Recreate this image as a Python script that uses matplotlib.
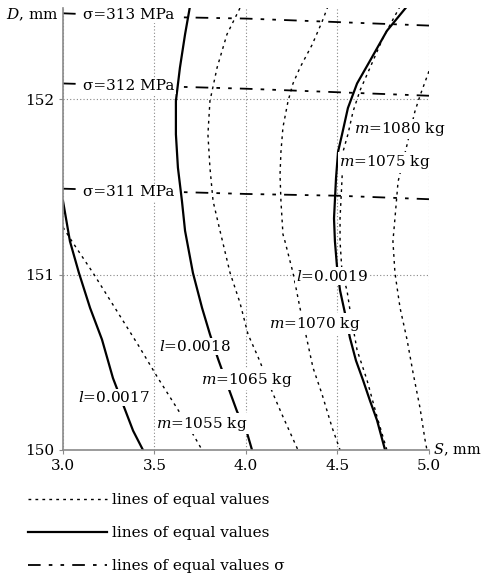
import matplotlib
matplotlib.use("Agg")
import matplotlib.pyplot as plt
from matplotlib.lines import Line2D

plt.rcParams["font.family"] = ["DejaVu Serif"]
plt.rcParams["mathtext.fontset"] = "dejavuserif"
plt.rcParams["font.size"] = 11

# ---------------- DATA ----------------
# lines of equal mass m, kg  (S in mm, D in mm)
m1055_S = [3.0, 3.049, 3.164, 3.290, 3.410, 3.519, 3.628, 3.716, 3.760]
m1055_D = [151.27, 151.19, 151.01, 150.80, 150.60, 150.41, 150.23, 150.08, 150.0]

m1065_S = [3.967, 3.896, 3.842, 3.803, 3.792, 3.803, 3.820, 3.858, 3.913,
           3.967, 4.011, 4.066, 4.148, 4.202, 4.284]
m1065_D = [152.52, 152.37, 152.18, 151.99, 151.80, 151.61, 151.42, 151.25, 151.01,
           150.84, 150.66, 150.53, 150.32, 150.19, 150.0]

m1070_S = [4.448, 4.415, 4.361, 4.295, 4.257, 4.230, 4.202, 4.191, 4.186, 4.191,
           4.202, 4.213, 4.257, 4.295, 4.333, 4.366, 4.415, 4.470, 4.514]
m1070_D = [152.53, 152.44, 152.31, 152.18, 152.09, 151.99, 151.84, 151.70, 151.57, 151.42,
           151.23, 151.19, 151.01, 150.81, 150.63, 150.47, 150.32, 150.13, 150.0]

m1075_S = [4.842, 4.749, 4.678, 4.623, 4.585, 4.557, 4.530, 4.525, 4.514, 4.514,
           4.525, 4.552, 4.568, 4.607, 4.661, 4.716, 4.770]
m1075_D = [152.53, 152.35, 152.18, 152.05, 151.93, 151.80, 151.70, 151.55, 151.32, 151.19,
           151.01, 150.91, 150.80, 150.57, 150.40, 150.19, 150.0]

m1080_S = [5.0, 4.951, 4.923, 4.880, 4.831, 4.814, 4.803, 4.814,
           4.842, 4.880, 4.913, 4.951, 4.978, 4.989]
m1080_D = [152.16, 152.02, 151.93, 151.74, 151.53, 151.32, 151.19, 151.01,
           150.81, 150.63, 150.44, 150.24, 150.06, 150.0]

# lines of equal l
l17_S = [3.0, 3.038, 3.087, 3.148, 3.213, 3.273, 3.339, 3.383, 3.437]
l17_D = [151.42, 151.19, 151.01, 150.81, 150.63, 150.41, 150.23, 150.11, 150.0]

l18_S = [3.694, 3.667, 3.639, 3.617, 3.617, 3.628, 3.650, 3.667, 3.710,
         3.760, 3.803, 3.847, 3.902, 3.951, 4.005, 4.033]
l18_D = [152.53, 152.37, 152.18, 151.99, 151.80, 151.61, 151.42, 151.25, 151.01,
         150.81, 150.66, 150.52, 150.36, 150.22, 150.10, 150.0]

l19_S = [4.880, 4.770, 4.678, 4.607, 4.557, 4.525, 4.503, 4.492, 4.481, 4.486,
         4.497, 4.514, 4.541, 4.568, 4.601, 4.639, 4.678, 4.716, 4.760]
l19_D = [152.53, 152.39, 152.22, 152.09, 151.95, 151.80, 151.70, 151.55, 151.32, 151.19,
         151.05, 150.91, 150.78, 150.64, 150.51, 150.40, 150.28, 150.17, 150.0]

# lines of equal stress sigma, MPa
sig_S = [3.0, 3.5, 4.0, 4.5, 5.0]
sig313_D = [152.49, 152.47, 152.46, 152.44, 152.42]
sig312_D = [152.09, 152.075, 152.06, 152.04, 152.02]
sig311_D = [151.49, 151.475, 151.46, 151.45, 151.43]

x_ticks = [3.0, 3.5, 4.0, 4.5, 5.0]
x_ticklabels = ["3.0", "3.5", "4.0", "4.5", "5.0"]
y_ticks = [150, 151, 152]

# ---------------- STYLES ----------------
M_STYLE = dict(color="black", lw=1.0, ls=(0, (2.0, 3.0)))
L_STYLE = dict(color="black", lw=1.6, ls="-")
S_STYLE = dict(color="black", lw=1.3, ls=(0, (7, 4.5, 2, 4.5, 2, 4.5)))
BOX = dict(facecolor="white", edgecolor="none", pad=1.0)

fig = plt.figure(figsize=(4.82, 5.75), dpi=100)
ax = fig.add_axes([0.1307, 0.2174, 0.7593, 0.7686])

for s, d in [(m1055_S, m1055_D), (m1065_S, m1065_D), (m1070_S, m1070_D),
             (m1075_S, m1075_D), (m1080_S, m1080_D)]:
    ax.plot(s, d, solid_joinstyle="round", **M_STYLE)
for s, d in [(l17_S, l17_D), (l18_S, l18_D), (l19_S, l19_D)]:
    ax.plot(s, d, solid_joinstyle="round", **L_STYLE)
for d in [sig313_D, sig312_D, sig311_D]:
    ax.plot(sig_S, d, **S_STYLE)

# labels on the curves
lab = dict(ha="center", va="center", fontsize=11, bbox=BOX, zorder=5)
ax.text(3.36, 152.48, "σ=313 MPa", **lab)
ax.text(3.36, 152.075, "σ=312 MPa", **lab)
ax.text(3.36, 151.47, "σ=311 MPa", **lab)
ax.text(3.28, 150.30, "$l$=0.0017", **lab)
ax.text(3.72, 150.59, "$l$=0.0018", **lab)
ax.text(4.47, 150.99, "$l$=0.0019", **lab)
ax.text(3.76, 150.15, "$m$=1055 kg", **lab)
ax.text(4.005, 150.40, "$m$=1065 kg", **lab)
ax.text(4.377, 150.72, "$m$=1070 kg", **lab)
ax.text(4.76, 151.64, "$m$=1075 kg", **lab)
t = ax.text(4.84, 151.83, "$m$=1080 kg", **lab)
t.set_clip_on(False)

ax.set_xlim(3.0, 5.0)
ax.set_ylim(150.0, 152.52)
ax.set_xticks(x_ticks)
ax.set_xticklabels(x_ticklabels)
ax.set_yticks(y_ticks)
ax.grid(True, ls=(0, (1, 2)), lw=0.8, color="#888888")
ax.set_axisbelow(True)
for side in ("top", "right"):
    ax.spines[side].set_visible(False)
for side in ("left", "bottom"):
    ax.spines[side].set_color("#8a8a8a")
    ax.spines[side].set_linewidth(1.2)
ax.tick_params(length=3, color="#8a8a8a", labelsize=11)

ax.text(-0.012, 152.48, "$D$, mm", ha="right", va="center",
        transform=ax.get_yaxis_transform())
ax.text(1.01, 150.0, "$S$, mm", ha="left", va="center", fontsize=10.5,
        transform=ax.get_yaxis_transform())

handles = [Line2D([], [], **M_STYLE), Line2D([], [], **L_STYLE), Line2D([], [], **S_STYLE)]
labels = ["lines of equal values", "lines of equal values", "lines of equal values σ"]
fig.legend(handles, labels, loc="upper left", bbox_to_anchor=(0.029, 0.166),
           frameon=False, handlelength=5.2, handletextpad=0.3, labelspacing=1.25,
           fontsize=11)

fig.savefig("out.png", dpi=100)
